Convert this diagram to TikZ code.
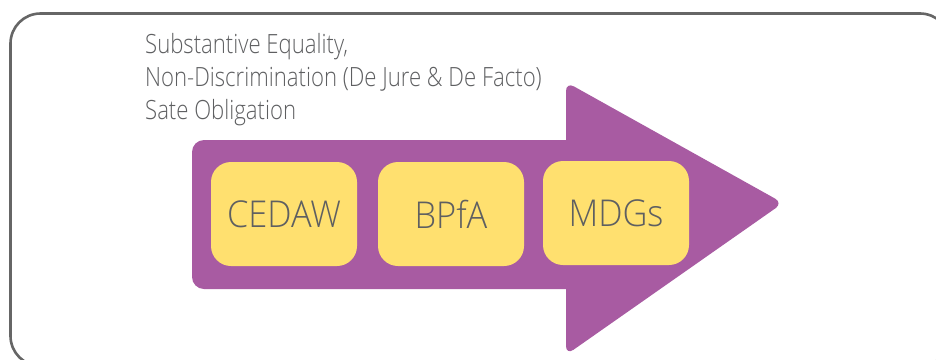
\documentclass[tikz,border=0pt]{standalone}
\usepackage{fontspec}
\setmainfont{Open Sans Light}[FakeStretch=0.835]
\newfontfamily\boxfont{Open Sans Light}[FakeStretch=0.93]
\definecolor{arrowpurple}{HTML}{A85BA2}
\definecolor{boxyellow}{HTML}{FFE06F}
\definecolor{textgray}{HTML}{5E5F61}
\definecolor{framegray}{HTML}{666666}
\begin{document}
\begin{tikzpicture}[x=1pt,y=-1pt,
  itembox/.style={fill=boxyellow, rounded corners=20pt, minimum width=146pt, minimum height=104pt,
    inner sep=0pt, text=textgray, font=\boxfont\fontsize{37}{40}\selectfont},
  toptext/.style={text=textgray, align=left, inner sep=0pt, font=\fontsize{26.5}{33}\selectfont}]
\useasboundingbox (0,0) rectangle (936,359);
\clip (0,0) rectangle (936,359);
\draw[framegray, line width=2.6pt, rounded corners=30pt] (10.5,13.5) rectangle (950,366);
% arrow
\fill[arrowpurple, rounded corners=12pt] (192,140) rectangle (580,289);
\fill[arrowpurple, rounded corners=9pt] (566,82) -- (783,203) -- (566,355) -- cycle;
\node[toptext, anchor=north west] (labels) at (145,33)
  {Substantive Equality,\\Non-Discrimination (De Jure \& De Facto)\\Sate Obligation};
\node[itembox] (cedaw) at (284,214) {CEDAW};
\node[itembox] (bpfa) at (451,214) {BPfA};
\node[itembox] (mdgs) at (616,213) {MDGs};
\end{tikzpicture}
\end{document}
